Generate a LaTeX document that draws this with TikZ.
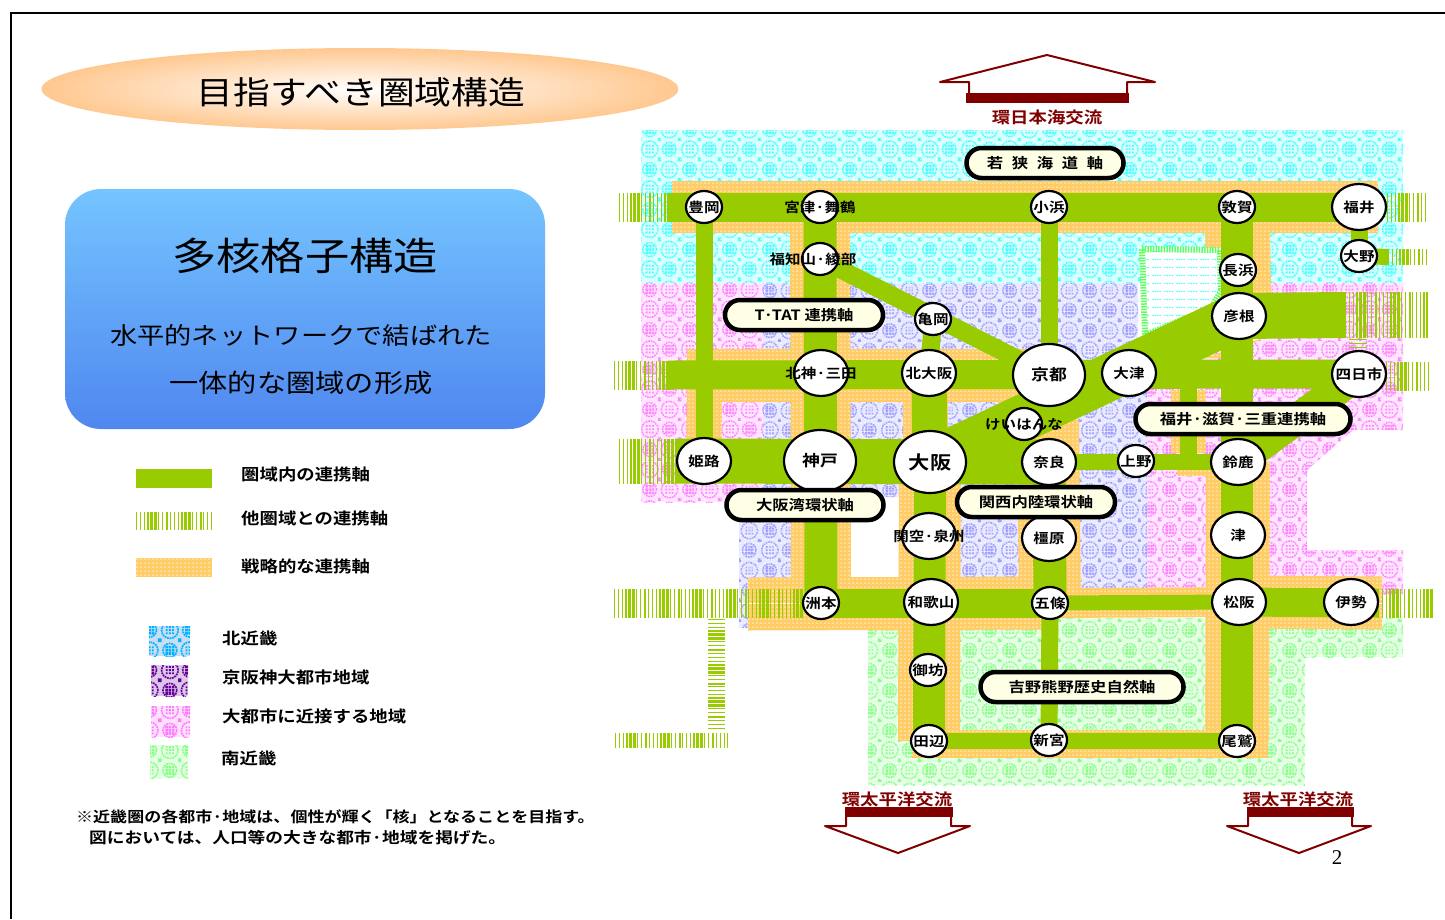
\documentclass[tikz,border=0pt]{standalone}
\usepackage{fontspec}
\setmainfont{Noto Sans CJK JP}[FakeStretch=1.15,BoldFont=* Bold]
\newfontfamily\pagefont{Liberation Serif}
\usetikzlibrary{shapes.geometric,patterns}

\definecolor{axisgreen}{HTML}{99CC00}
\definecolor{stratorange}{HTML}{FFCC66}
\definecolor{northcyan}{HTML}{4DFFFF}
\definecolor{cityblue}{HTML}{A0A0FF}
\definecolor{nearpink}{HTML}{FF88FF}
\definecolor{southgreen}{HTML}{88FF88}
\definecolor{flowred}{HTML}{800000}
\definecolor{pillcream}{HTML}{FFFFE6}
\definecolor{paneltop}{HTML}{75C4FF}
\definecolor{panelbottom}{HTML}{4F87EF}
\definecolor{titlepeach}{HTML}{FFC890}

\pgfdeclarelayer{region}
\pgfdeclarelayer{strategic}
\pgfdeclarelayer{speckle}
\pgfdeclarelayer{axis}
\pgfsetlayers{region,strategic,speckle,axis,main}

\newcommand{\latticeblock}[3]{%
  \foreach \i in {-3.2,0,3.2}{\foreach \j in {-3.2,0,3.2}{%
    \pgfpathrectangle{\pgfpoint{#1pt+\i pt-#3pt/2}{#2pt+\j pt-#3pt/2}}{\pgfpoint{#3pt}{#3pt}}%
    \pgfusepath{fill}}}}

\pgfdeclarepatternformonly{lattice}{\pgfqpoint{0pt}{0pt}}{\pgfqpoint{40pt}{40pt}}{\pgfqpoint{40pt}{40pt}}{%
  \pgfsetlinewidth{1.7pt}%
  \pgfsetdash{{1.8pt}{0.8pt}}{0pt}%
  \pgfpathcircle{\pgfqpoint{10pt}{10pt}}{8.4pt}%
  \pgfpathcircle{\pgfqpoint{30pt}{30pt}}{8.4pt}%
  \pgfpathcircle{\pgfqpoint{30pt}{10pt}}{7pt}%
  \pgfpathcircle{\pgfqpoint{10pt}{30pt}}{7pt}%
  \pgfusepath{stroke}%
  \pgfsetdash{}{0pt}%
  \latticeblock{10}{10}{1.9}%
  \latticeblock{30}{30}{1.9}%
  \latticeblock{30}{10}{2.6}%
  \latticeblock{10}{30}{2.6}%
  \foreach \i in {0,20,40}{\foreach \j in {0,20,40}{%
    \pgfpathrectangle{\pgfpoint{\i pt-1.6pt}{\j pt-1.6pt}}{\pgfpoint{3.2pt}{3.2pt}}%
    \pgfusepath{fill}}}%
}
\pgfdeclarepatternformonly{specks}{\pgfqpoint{0pt}{0pt}}{\pgfqpoint{4pt}{4pt}}{\pgfqpoint{4pt}{4pt}}{%
  \pgfpathrectangle{\pgfqpoint{0.6pt}{0.6pt}}{\pgfqpoint{1.5pt}{1.2pt}}%
  \pgfusepath{fill}%
}
\pgfdeclarepatternformonly{lakewave}{\pgfqpoint{0pt}{0pt}}{\pgfqpoint{12pt}{8pt}}{\pgfqpoint{12pt}{8pt}}{%
  \pgfsetlinewidth{1.4pt}%
  \pgfsetdash{{1.6pt}{1pt}}{0pt}%
  \pgfpathmoveto{\pgfqpoint{0pt}{4pt}}%
  \pgflineto{\pgfqpoint{10pt}{4pt}}%
  \pgfusepath{stroke}%
}

\newcommand{\nm}[1]{\makebox[0pt]{#1}}

\begin{document}
\begin{tikzpicture}[
      x=1pt, y=-1pt,
      citynode/.style={ellipse, draw, line width=2.2, fill=white, inner sep=0,
        font=\bfseries\fontsize{13.5}{14}\selectfont},
      smallcity/.style={citynode, minimum width=36, minimum height=32},
      midcity/.style={citynode, minimum width=54, minimum height=46},
      bigcity/.style={citynode, minimum width=72, minimum height=62,
        font=\bfseries\fontsize{15.5}{16}\selectfont},
      pill/.style={draw, line width=4.5, fill=pillcream, rounded corners=15, inner sep=0,
        minimum height=30, font=\bfseries\fontsize{14.2}{15}\selectfont},
      axisline/.style={draw=axisgreen},
      stripeline/.style={preaction={draw=white, solid}, draw=axisgreen, dash pattern=on 1 off 3 on 1 off 3 on 1 off 2 on 2 off 1 on 3 off 1 on 3 off 1 on 1 off 3 on 1 off 3 on 2 off 1.5},
      stratline/.style={draw=stratorange},
      regionfill/.style={preaction={fill=#1!22!white}, pattern=lattice, pattern color=#1},
      legendtext/.style={anchor=west, inner sep=0, font=\bfseries\fontsize{16}{17}\selectfont},
      notetext/.style={anchor=west, inner sep=0, font=\bfseries\fontsize{14.8}{16}\selectfont},
      flowtext/.style={text=flowred, inner sep=0, font=\bfseries\fontsize{16}{17}\selectfont},
      flowshape/.style={draw=flowred, line width=2, fill=white, line join=round}
    ]
\useasboundingbox (0,0) rectangle (1445,919);

% Frame
\draw[line width=2] (11,919) -- (11,13) -- (1445,13);

% Titles
\node[ellipse, inner sep=0, minimum width=637, minimum height=82, inner color=white, outer color=titlepeach] (title) at (360,89) {};
\node[inner sep=0, font=\fontsize{32}{34}\selectfont] (titletext) at (361,92) {目指すべき圏域構造};
\node[rounded corners=36, minimum width=480, minimum height=240, top color=paneltop, bottom color=panelbottom] (panel) at (305,309) {};
\node[inner sep=0, font=\fontsize{38.5}{40}\selectfont] (paneltitle) at (305,256) {多核格子構造};
\node[inner sep=0, font=\fontsize{23.7}{25}\selectfont] (panelline) at (301,335) {水平的ネットワークで結ばれた};
\node[inner sep=0, font=\fontsize{25.4}{26}\selectfont] (panelform) at (301,383) {一体的な圏域の形成};

% Legend
\fill[axisgreen] (136,469) rectangle (212,488);
\draw[stripeline, line width=18] (136,521) -- (212,521);
\begin{pgfonlayer}{strategic}
\fill[stratorange] (136,558) rectangle (212,577);
\end{pgfonlayer}
\node[legendtext] (legendinner) at (241,474) {圏域内の連携軸};
\node[legendtext] (legendother) at (241,518) {他圏域との連携軸};
\node[legendtext] (legendstrat) at (241,566) {戦略的な連携軸};
\fill[regionfill=cyan!70!blue] (149,626) rectangle (190,656);
\fill[regionfill=violet!80!blue] (151,665) rectangle (188,696);
\fill[regionfill=nearpink!90!magenta] (151,706) rectangle (190,737);
\fill[regionfill=southgreen] (150,745) rectangle (188,778);
\node[legendtext] (legendnorth) at (222,638) {北近畿};
\node[legendtext] (legendcity) at (222,677) {京阪神大都市地域};
\node[legendtext] (legendnear) at (222,716) {大都市に近接する地域};
\node[legendtext] (legendsouth) at (221,758) {南近畿};
\node[notetext] (noteone) at (76,817) {※近畿圏の各都市·地域は、個性が輝く「核」となることを目指す。};
\node[notetext, font=\bfseries\fontsize{15.4}{16}\selectfont] (notetwo) at (89,838) {図においては、人口等の大きな都市·地域を掲げた。};

% Flow arrows
\draw[flowshape] (969,82) -- (940,82) -- (1047,55) -- (1155,82) -- (1127,82) -- (1127,98) -- (969,98) -- cycle;
\fill[flowred] (966,93) rectangle (1129,103);
\node[flowtext] (flownorth) at (1047,117) {環日本海交流};
\draw[flowshape] (846,812) -- (846,826) -- (825,826) -- (898,853) -- (970,826) -- (951,826) -- (951,812) -- cycle;
\fill[flowred] (845,807) rectangle (953,817);
\node[flowtext] (flowwest) at (897,799) {環太平洋交流};
\draw[flowshape] (1248,812) -- (1248,826) -- (1227,826) -- (1299,853) -- (1371,826) -- (1352,826) -- (1352,812) -- cycle;
\fill[flowred] (1247,807) rectangle (1354,817);
\node[flowtext] (floweast) at (1298,799) {環太平洋交流};
\node[inner sep=0, font=\pagefont\fontsize{21}{22}\selectfont] (pageno) at (1337,858) {2};

% Cities
\node[smallcity] (toyooka) at (704,207) {\nm{豊岡}};
\node[smallcity] (miyazu) at (820,207) {\nm{宮津·舞鶴}};
\node[smallcity] (obama) at (1049,207) {\nm{小浜}};
\node[smallcity] (tsuruga) at (1237,207) {\nm{敦賀}};
\node[midcity] (fukui) at (1359,207) {\nm{福井}};
\node[smallcity] (fukuchiyama) at (820,259) {\nm{福知山·綾部\hspace{14pt}}};
\node[smallcity] (ono) at (1359,256) {\nm{大野}};
\node[smallcity] (nagahama) at (1238,270) {\nm{長浜}};
\node[midcity] (hikone) at (1239,316) {\nm{彦根}};
\node[smallcity] (kameoka) at (933,319) {\nm{亀岡}};
\node[midcity] (sanda) at (821,373) {\nm{北神·三田}};
\node[midcity] (kitaosaka) at (929,373) {\nm{北大阪}};
\node[bigcity] (kyoto) at (1049,375) {\nm{京都}};
\node[midcity] (otsu) at (1129,373) {\nm{大津}};
\node[midcity] (yokkaichi) at (1359,374) {\nm{四日市}};
\node[smallcity] (keihanna) at (1024,424) {\nm{けいはんな}};
\node[midcity] (himeji) at (704,461) {\nm{姫路}};
\node[bigcity] (kobe) at (820,461) {\nm{神戸}};
\node[bigcity, font=\bfseries\fontsize{18.5}{19}\selectfont] (osaka) at (930,462) {\nm{大阪}};
\node[midcity] (nara) at (1049,462) {\nm{奈良}};
\node[smallcity] (ueno) at (1136,461) {\nm{上野}};
\node[midcity] (suzuka) at (1238,462) {\nm{鈴鹿}};
\node[midcity] (kanku) at (929,536) {\nm{関空·泉州}};
\node[midcity] (kashihara) at (1049,538) {\nm{橿原}};
\node[midcity] (tsu) at (1238,535) {\nm{津}};
\node[midcity] (wakayama) at (931,602) {\nm{和歌山}};
\node[smallcity] (sumoto) at (821,603) {\nm{洲本}};
\node[smallcity] (gojo) at (1050,603) {\nm{五條}};
\node[midcity] (matsusaka) at (1239,602) {\nm{松阪}};
\node[midcity] (ise) at (1351,602) {\nm{伊勢}};
\node[smallcity] (gobo) at (928,670) {\nm{御坊}};
\node[smallcity] (tanabe) at (929,741) {\nm{田辺}};
\node[smallcity] (shingu) at (1049,740) {\nm{新宮}};
\node[smallcity] (owase) at (1237,741) {\nm{尾鷲}};

% Axis names
\node[pill, minimum width=158] (ttat) at (804,315) {T·TAT 連携軸};
\node[pill, minimum width=157] (wakasa) at (1045,163) {若 \hspace{5pt}狭 \hspace{5pt}海 \hspace{5pt}道 \hspace{5pt}軸};
\node[pill, minimum width=157] (bayring) at (805,505) {大阪湾環状軸};
\node[pill, minimum width=158] (inlandring) at (1036,502) {関西内陸環状軸};
\node[pill, minimum width=215] (fsmlink) at (1243,419) {福井·滋賀·三重連携軸};
\node[pill, minimum width=203] (yoshino) at (1082,687) {吉野熊野歴史自然軸};

% Free ends
\coordinate (topwest) at (670,207);
\coordinate (topstripewest) at (619,207);
\coordinate (topstripeeast) at (1428,207);
\coordinate (fukuieast) at (1387,207);
\coordinate (midwest) at (669,375);
\coordinate (midstripewest) at (614,375);
\coordinate (yokkaichieast) at (1386,376);
\coordinate (midstripeeast) at (1428,376);
\coordinate (lowwest) at (675,461);
\coordinate (lowstripewest) at (619,461);
\coordinate (bayeast) at (803,603);
\coordinate (baystripewest) at (614,603);
\coordinate (iseeast) at (1378,603);
\coordinate (isestripeeast) at (1433,603);
\coordinate (onoeast) at (1388,257);
\coordinate (onostripeeast) at (1428,257);
\coordinate (hikoneeast) at (1345,315);
\coordinate (hikonestripeeast) at (1428,315);
\coordinate (hikonedown) at (1358,339);
\coordinate (yokkaichiup) at (1358,348);
\coordinate (otsulink) at (1188,375);
\coordinate (uenolink) at (1188,461);
\coordinate (awajitop) at (716.5,619);
\coordinate (awajibottom) at (716.5,730);
\coordinate (southstripewest) at (615,740.5);
\coordinate (southstripeeast) at (727,740.5);

% Regions
\begin{pgfonlayer}{region}
\fill[regionfill=northcyan] (641,130) rectangle (1403,283);
\fill[regionfill=nearpink] (641,283) rectangle (763,502);
\fill[regionfill=nearpink] (1147,360) -- (1270,338) -- (1270,283) -- (1403,283) -- (1403,430) -- (1353,430) -- (1307,470) -- (1307,550) -- (1403,550) -- (1403,595) -- (1147,595) -- cycle;
\fill[regionfill=cityblue] (763,283) -- (1138,283) -- (1138,392) -- (1147,392) -- (1147,595) -- (899,595) -- (899,497) -- (850,497) -- (850,595) -- (748,595) -- (748,628) -- (739,628) -- (739,522) -- (763,522) -- cycle;
\fill[regionfill=southgreen] (868,618) rectangle (1403,657);
\fill[regionfill=southgreen] (868,657) rectangle (1305,785);
\end{pgfonlayer}

% Strategic axes
\begin{pgfonlayer}{strategic}
\draw[stratline, line width=52] (672,207) -- (1378,207);
\draw[stratline, line width=60] (miyazu.center) -- (sumoto.center);
\draw[stratline, line width=53] (687,375) -- (kyoto.center);
\draw[stratline, line width=35] (704.5,375) -- (himeji.center);
\draw[stratline, line width=45] (925,375) -- (925,462);
\draw[stratline, line width=62] (osaka.center) -- (tanabe.center);
\draw[stratline, line width=53] (748,604) -- (gojo.center);
\draw[stratline, line width=30] (gojo.center) -- (matsusaka.center);
\draw[stratline, line width=53] (matsusaka.center) -- (1382,603);
\draw[stratline, line width=65] (tsuruga.center) -- (hikone.center);
\draw[stratline, line width=64] (suzuka.center) -- (owase.center);
\draw[stratline, line width=28] (912,744) -- (1268,744);
\draw[stratline, line width=62] (1048,420) -- (gojo.center);
\draw[stratline, line width=35] (1188,390) -- (1188,453);
\fill[stratorange] (1177,469) rectangle (1220,476);
\fill[stratorange] (1205,358) -- (1263,338) -- (1227,358) -- cycle;
\end{pgfonlayer}
\begin{pgfonlayer}{speckle}
\fill[pattern=specks, pattern color=white] (130,125) rectangle (1410,790);
% Lake
\path[fill=white] (1140,247) -- (1222,248) -- (1223,292) -- (1213,310) -- (1143,338) -- cycle;
\path[pattern=lakewave, pattern color=northcyan] (1144,251) -- (1218,252) -- (1219,290) -- (1210,306) -- (1147,332) -- cycle;
\draw[southgreen!70!green, line width=6, dash pattern=on 1.5 off 1.2] (1142,249) -- (1220,250) -- (1221,291) -- (1211,308) -- (1145,335) -- cycle;
\end{pgfonlayer}

% Axes inside the region
\begin{pgfonlayer}{axis}
% Axes to the other regions
\draw[stripeline, line width=29] (topstripewest) -- (topwest);
\draw[stripeline, line width=29] (fukuieast) -- (topstripeeast);
\draw[stripeline, line width=29] (midstripewest) -- (midwest);
\draw[stripeline, line width=29] (yokkaichieast) -- (midstripeeast);
\draw[stripeline, line width=45] (lowstripewest) -- (lowwest);
\draw[stripeline, line width=29] (baystripewest) -- (bayeast);
\draw[stripeline, line width=29] (iseeast) -- (isestripeeast);
\draw[stripeline, line width=16] (onoeast) -- (onostripeeast);
\draw[stripeline, line width=46] (hikoneeast) -- (hikonestripeeast);
\draw[stripeline, line width=18] (hikonedown) -- (yokkaichiup);
\draw[stripeline, line width=17] (awajitop) -- (awajibottom);
\draw[stripeline, line width=15] (southstripewest) -- (southstripeeast);

\draw[axisline, line width=29] (topwest) -- (fukui.center);
\draw[axisline, line width=29] (midwest) -- (yokkaichi.center);
\draw[axisline, line width=45] (lowwest) -- (nara.center);
\draw[axisline, line width=29] (sumoto.center) -- (gojo.center);
\draw[axisline, line width=15] (gojo.center) -- (matsusaka.center);
\draw[axisline, line width=29] (matsusaka.center) -- (iseeast);
\draw[axisline, line width=17] (toyooka.center) -- (himeji.center);
\draw[axisline, line width=33] (miyazu.center) -- (sumoto.center);
\draw[axisline, line width=18] (kameoka.center) -- (kitaosaka.center);
\draw[axisline, line width=35] (kitaosaka.center) -- (osaka.center);
\draw[axisline, line width=32] (osaka.center) -- (tanabe.center);
\draw[axisline, line width=17] (obama.center) -- (kyoto.center);
\draw[axisline, line width=17] (fukui.center) -- (ono.center);
\draw[axisline, line width=16] (ono.center) -- (onoeast);
\draw[axisline, line width=46] (hikone.center) -- (hikoneeast);
\draw[axisline, line width=18] (fukuchiyama.center) -- (kyoto.center);
\draw[axisline, line width=47] (osaka.center) -- (hikone.center);
\draw[axisline, line width=31] (suzuka.center) -- (yokkaichi.center);
\draw[axisline, line width=32] (tsuruga.center) -- (owase.center);
\draw[axisline, line width=16] (nara.center) -- (suzuka.center);
\draw[axisline, line width=33] (nara.center) -- (gojo.center);
\draw[axisline, line width=17] (gojo.center) -- (shingu.center);
\draw[axisline, line width=16] (tanabe.center) -- (owase.center);
\draw[axisline, line width=17] (otsulink) -- (uenolink);
\end{pgfonlayer}

\end{tikzpicture}
\end{document}
